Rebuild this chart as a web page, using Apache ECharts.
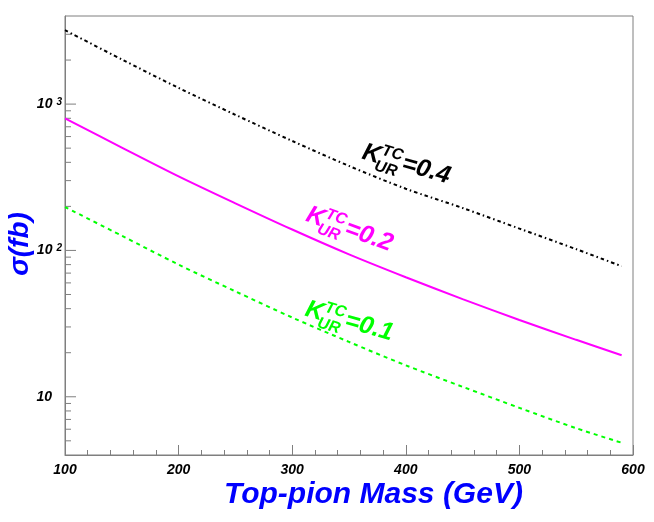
<!DOCTYPE html>
<html>
<head>
<meta charset="utf-8">
<script src="https://cdn.jsdelivr.net/npm/echarts@6/dist/echarts.min.js"></script>
<style>
  html, body { margin: 0; padding: 0; background: #fff; }
  #main { width: 654px; height: 522px; }
</style>
</head>
<body>
<div id="main"></div>
<script>
// top-pion mass (GeV)
const mass = [100, 150, 200, 250, 300, 350, 400, 450, 500, 550, 590];
// cross sections (fb)
const sigma04 = [3200, 2020, 1290, 845, 560, 378, 264, 195, 141, 102, 78];
const sigma02 = [800, 505, 321, 210, 139, 94, 65.6, 46.5, 33.5, 24.5, 19.2];
const sigma01 = [198, 126, 80, 52.5, 34.8, 23.7, 16.4, 11.7, 8.4, 6.1, 4.85];

// y axis ticks (log scale)
const yMajor = [10, 100, 1000];
const yMinor = [5, 6, 7, 8, 9, 20, 30, 40, 50, 60, 70, 80, 90,
                200, 300, 400, 500, 600, 700, 800, 900, 2000, 3000];

const axisGrey = '#7f7f7f';
const labFont = 'Liberation Sans';

function pairs(ys) {
  return mass.map(function (m, i) { return [m, ys[i]]; });
}

// K^{TC}_{UR}=x label, drawn as a rotated group
function kLabel(x, y, deg, color, val) {
  const big = 'italic bold 25px "' + labFont + '"';
  const small = 'italic bold 16px "' + labFont + '"';
  return {
    type: 'group',
    x: x, y: y,
    rotation: -deg * Math.PI / 180,
    children: [
      { type: 'text', style: { text: 'K', x: 0, y: 0, font: big, fill: color, verticalAlign: 'middle' } },
      { type: 'text', style: { text: 'TC', x: 18, y: -7, font: small, fill: color, verticalAlign: 'middle' } },
      { type: 'text', style: { text: 'UR', x: 15, y: 10, font: small, fill: color, verticalAlign: 'middle' } },
      { type: 'text', style: { text: '=' + val, x: 41, y: 0, font: big, fill: color, verticalAlign: 'middle' } }
    ]
  };
}

const tickData = yMinor.map(function (v) { return [100, v, 0]; })
  .concat(yMajor.map(function (v) { return [100, v, 1]; }));

let myChart = echarts.init(document.getElementById('main'));

let option = {
  animation: false,
  backgroundColor: '#fff',
  grid: {
    left: 65, right: 21, top: 16, bottom: 67,
    show: true, borderColor: axisGrey, borderWidth: 1
  },
  xAxis: {
    type: 'value',
    min: 100, max: 600, interval: 100,
    axisLine: { lineStyle: { color: axisGrey, width: 1 } },
    axisTick: { inside: true, length: 10, lineStyle: { color: axisGrey } },
    minorTick: { show: true, splitNumber: 5, length: 5, lineStyle: { color: axisGrey } },
    splitLine: { show: false },
    axisLabel: {
      margin: 8, color: '#000',
      fontFamily: labFont, fontStyle: 'italic', fontWeight: 'bold', fontSize: 14
    }
  },
  yAxis: {
    type: 'log',
    logBase: 10,
    min: 4, max: 4000,
    axisLine: { show: true, lineStyle: { color: axisGrey, width: 1 } },
    axisTick: { show: false },
    splitLine: { show: false },
    axisLabel: {
      margin: 3, color: '#000',
      formatter: function (v) {
        if (Math.abs(v - 10) < 1e-6) return '{b|10}{p|}';
        if (Math.abs(v - 100) < 1e-6) return '{b|10}{s|2}';
        if (Math.abs(v - 1000) < 1e-6) return '{b|10}{s|3}';
        return '';
      },
      rich: {
        b: { fontFamily: labFont, fontStyle: 'italic', fontWeight: 'bold', fontSize: 14, color: '#000' },
        s: { fontFamily: labFont, fontStyle: 'italic', fontWeight: 'bold', fontSize: 10, color: '#000',
             verticalAlign: 'top', padding: [0, 0, 0, 4] },
        p: { width: 10 }
      }
    }
  },
  graphic: [
    {
      type: 'text', x: 224, y: 495,
      style: {
        text: 'Top-pion Mass (GeV)', fill: '#0000ff',
        font: 'italic bold 30px "' + labFont + '"', verticalAlign: 'middle', align: 'left'
      }
    },
    {
      type: 'text', x: 20, y: 244, rotation: Math.PI / 2,
      style: {
        text: 'σ(fb)', fill: '#0000ff',
        font: 'italic bold 28px "' + labFont + '"', verticalAlign: 'middle', align: 'center'
      }
    },
    kLabel(363, 152, 16, '#000000', '0.4'),
    kLabel(307, 214, 20, '#ff00ff', '0.2'),
    kLabel(306, 309, 16, '#00ff00', '0.1')
  ],
  series: [
    {
      name: 'K=0.4', type: 'line', data: pairs(sigma04),
      showSymbol: false, smooth: 0.3,
      lineStyle: { color: '#000', width: 2, type: [3.5, 3, 1.5, 3] }
    },
    {
      name: 'K=0.2', type: 'line', data: pairs(sigma02),
      showSymbol: false, smooth: 0.3,
      lineStyle: { color: '#ff00ff', width: 2 }
    },
    {
      name: 'K=0.1', type: 'line', data: pairs(sigma01),
      showSymbol: false, smooth: 0.3,
      lineStyle: { color: '#00ff00', width: 2, type: [4, 4] }
    },
    {
      // y axis ticks, placed through the log scale
      type: 'custom', silent: true, clip: false,
      data: tickData,
      renderItem: function (params, api) {
        const p = api.coord([api.value(0), api.value(1)]);
        const len = api.value(2) ? 11 : 6;
        return {
          type: 'line',
          shape: { x1: p[0], y1: p[1], x2: p[0] + len, y2: p[1] },
          style: { stroke: axisGrey, lineWidth: 1 }
        };
      }
    }
  ]
};

myChart.setOption(option);
</script>
</body>
</html>
